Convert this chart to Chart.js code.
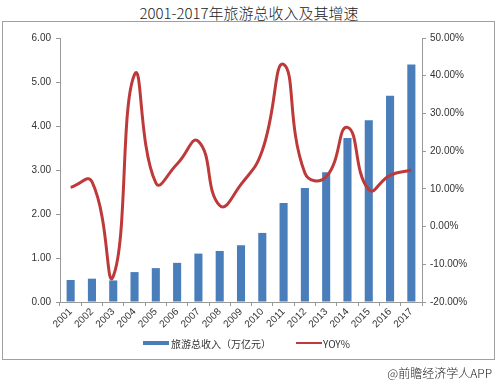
<!DOCTYPE html>
<html>
<head>
<meta charset="utf-8">
<script src="https://cdn.jsdelivr.net/npm/chart.js@4/dist/chart.umd.min.js"></script>
<style>
    body { margin: 0; background: #fff; font-family: "Liberation Sans", Arial, sans-serif; }
    #wrap { position: relative; width: 498px; height: 386px; overflow: hidden; }
    #title { position: absolute; left: 0; top: 2px; width: 498px; text-align: center; font: 300 15px "Noto Sans CJK SC", sans-serif; color: #222; }
    #frame { position: absolute; left: 2px; top: 21px; width: 491px; height: 337px; border: 1px solid #a0a0a0; }
    #chartBox { position: absolute; left: 0; top: 0; width: 498px; height: 386px; }
    .leg { position: absolute; top: 336px; font: 10px "Noto Sans CJK SC", sans-serif; color: #333; white-space: nowrap; }
    .sw { position: absolute; }
    #credit { position: absolute; right: 6px; top: 364px; font: 300 12px "Noto Sans CJK SC", sans-serif; color: #222; }
</style>
</head>
<body>
<div id="wrap">
    <div id="frame"></div>
    <div id="title">2001-2017年旅游总收入及其增速</div>
    <div id="chartBox"><canvas id="chart" width="498" height="386"></canvas></div>
    <div class="sw" style="left:143px; top:341px; width:26px; height:4px; background:#4A7EBB;"></div>
    <div class="leg" style="left:171px;">旅游总收入（万亿元）</div>
    <div class="sw" style="left:296px; top:342px; width:26px; height:2px; background:#BE3A3A;"></div>
    <div class="leg" style="left:323px;">YOY%</div>
    <div id="credit">@前瞻经济学人APP</div>
</div>
<script>
// 数据
const years = ['2001', '2002', '2003', '2004', '2005', '2006', '2007', '2008', '2009',
               '2010', '2011', '2012', '2013', '2014', '2015', '2016', '2017'];
const revenue = [0.50, 0.53, 0.49, 0.68, 0.77, 0.89, 1.10, 1.16, 1.29,
                 1.57, 2.25, 2.59, 2.95, 3.73, 4.13, 4.69, 5.40];
const yoy = [10.4, 11.9, -13.2, 40.3, 11.6, 16.6, 22.6, 5.6, 11.2,
             20.2, 43.0, 14.2, 13.2, 26.3, 9.8, 13.6, 15.0];
const leftTicks = [0, 1, 2, 3, 4, 5, 6];
const rightTicks = [-20, -10, 0, 10, 20, 30, 40, 50];

const axisFont = { family: '"Liberation Sans", Arial, sans-serif', size: 10 };

new Chart(document.getElementById('chart'), {
    data: {
        labels: years,
        datasets: [{
            type: 'line',
            label: 'YOY%',
            data: yoy,
            yAxisID: 'y1',
            borderColor: '#BE3A3A',
            borderWidth: 3,
            tension: 0.5,
            pointRadius: 0,
            fill: false,
            order: 0
        }, {
            type: 'bar',
            label: '旅游总收入（万亿元）',
            data: revenue,
            yAxisID: 'y',
            backgroundColor: '#4A7EBB',
            barPercentage: 0.38,
            categoryPercentage: 1,
            order: 1
        }]
    },
    options: {
        responsive: false,
        animation: false,
        layout: { padding: { top: 38, left: 0, right: 0, bottom: 0 } },
        plugins: { legend: { display: false }, tooltip: { enabled: false } },
        scales: {
            x: {
                offset: true,
                grid: { display: true, drawOnChartArea: false, offset: true, tickLength: 4, color: '#999' },
                border: { color: '#999' },
                ticks: { font: axisFont, color: '#333', minRotation: 45, maxRotation: 45, padding: 0 },
                afterFit: s => { s.height = 84; }
            },
            y: {
                position: 'left',
                min: 0, max: 6,
                afterBuildTicks: s => { s.ticks = leftTicks.map(v => ({ value: v })); },
                grid: { display: true, drawOnChartArea: false, tickLength: 4, color: '#999' },
                border: { color: '#999' },
                ticks: { font: axisFont, color: '#333', padding: 5, callback: v => v.toFixed(2) },
                afterFit: s => { s.width = 60; }
            },
            y1: {
                position: 'right',
                min: -20, max: 50,
                afterBuildTicks: s => { s.ticks = rightTicks.map(v => ({ value: v })); },
                grid: { display: true, drawOnChartArea: false, tickLength: 4, color: '#999' },
                border: { color: '#999' },
                ticks: { font: axisFont, color: '#333', padding: 4, callback: v => v.toFixed(2) + '%' },
                afterFit: s => { s.width = 76; }
            }
        }
    }
});
</script>
</body>
</html>
